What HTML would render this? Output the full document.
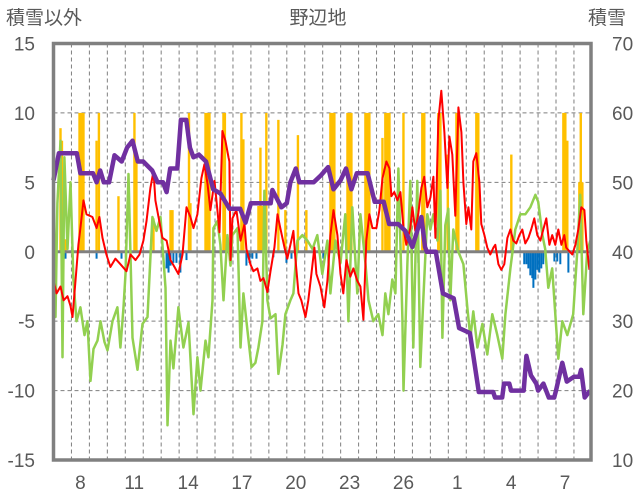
<!DOCTYPE html>
<html><head><meta charset="utf-8">
<style>
html,body{margin:0;padding:0;background:#fff;}
svg{display:block;}
text{font-family:"Liberation Sans","Noto Sans CJK JP",sans-serif;fill:#595959;}
</style></head>
<body>
<svg id="chart" width="636" height="501" viewBox="0 0 636 501" xmlns="http://www.w3.org/2000/svg">
  <text x="6" y="24" font-size="19" font-family="Noto Sans CJK JP, sans-serif">積雪以外</text>
  <text x="318" y="24" font-size="19" text-anchor="middle" font-family="Noto Sans CJK JP, sans-serif">野辺地</text>
  <text x="588" y="24" font-size="19" font-family="Noto Sans CJK JP, sans-serif">積雪</text>
  <g id="grid"></g>
  <g id="bars"></g>
  <g id="lines"></g>
  <g id="frame"></g>
  <g id="labels"></g>
</svg>
<script>
// ---- data (time in days from start of the 7th) ----
const leftTicks = [15, 10, 5, 0, -5, -10, -15];
const rightTicks = [70, 60, 50, 40, 30, 20, 10];
const dayLabels = ["8","11","14","17","20","23","26","1","4","7"];
const dayLabelPos = [1.5,4.5,7.5,10.5,13.5,16.5,19.5,22.5,25.5,28.5];

const redT = [0,0.17,0.39,0.56,0.78,0.95,1.06,1.23,1.39,1.50,1.67,1.84,2.17,2.40,2.56,2.73,2.95,3.17,3.45,3.73,4.07,4.29,4.57,4.79,5.01,5.18,5.40,5.57,5.68,5.85,6.07,6.30,6.52,6.74,6.96,7.19,7.41,7.63,7.80,8.02,8.24,8.41,8.58,8.74,8.97,9.13,9.25,9.41,9.58,9.75,9.80,9.86,9.97,10.19,10.42,10.64,10.75,10.97,11.14,11.36,11.53,11.70,11.92,12.09,12.31,12.48,12.64,12.87,13.03,13.20,13.37,13.48,13.65,13.81,14.04,14.20,14.37,14.54,14.65,14.87,15.09,15.26,15.43,15.60,15.82,15.99,16.15,16.32,16.54,16.71,16.93,17.10,17.27,17.43,17.60,17.77,17.99,18.16,18.33,18.55,18.72,18.83,18.99,19.16,19.33,19.50,19.66,19.88,20.00,20.16,20.33,20.50,20.66,20.83,21.00,21.17,21.28,21.44,21.61,21.78,21.95,22.06,22.22,22.39,22.56,22.73,22.84,23.00,23.12,23.28,23.39,23.56,23.73,23.84,24.01,24.17,24.34,24.51,24.62,24.79,24.95,25.12,25.29,25.46,25.62,25.79,25.96,26.12,26.29,26.46,26.62,26.79,26.96,27.13,27.29,27.46,27.63,27.79,27.96,28.13,28.30,28.46,28.57,28.91,29.08,29.24,29.41,29.58,29.69,29.86];
const redV = [-2.1,-3,-2.5,-3.5,-3.2,-3.9,-4.7,-2,0.5,1.7,3.7,2.7,2.5,1.7,2.5,1,-0.2,-1.1,-0.5,-0.9,-1.4,-0.2,-0.6,-0.2,0.8,2.2,4.6,5.8,3.7,2.5,1,0.8,-0.6,-1.1,-1.6,-0.2,3.2,2.5,1.7,2.7,5.3,6.3,4.9,3,5.1,3,1.4,8.7,8,6.8,6.5,-0.6,2.4,3,0.8,2,0.2,-0.9,-1.4,-1.2,-2.1,-1.9,-2.9,-1.4,0.3,2.7,1.7,0.3,-0.5,0.5,1.5,-0.5,-3,-3.5,-4.7,-3.5,-1.6,0.3,-1.6,-2.5,-4,-2.1,1.2,3,1.2,-1.6,-3,-0.6,-1.8,-1.2,-2.1,-2.5,-4.9,0.8,2.7,1.7,1.7,3,5.3,6.5,6,4,4.3,3.7,4.3,1.7,0.5,1.7,3.2,1.5,2.8,4.6,5.4,3.2,3.9,5.4,1,9.4,11.6,8.6,4.6,8.3,7,2.6,10.4,8.6,5,2,3.2,1.6,6.5,7.1,5,2,1.2,0.3,-0.2,0.3,0.5,-0.9,-1.3,-0.9,1,1.6,0.8,0.6,1.2,1.6,0.6,1,1.6,2.4,1.2,0.8,1.6,2.4,0.5,1.2,0.5,1.6,0.5,1.2,0.3,-0.2,0.5,1.6,3.2,3,0.8,-1.3];

const greenT = [0,0.11,0.22,0.39,0.50,0.61,0.78,0.95,1.11,1.28,1.50,1.73,1.89,2.06,2.23,2.45,2.62,2.84,3.01,3.29,3.56,3.73,3.90,4.01,4.18,4.40,4.68,4.96,5.24,5.51,5.74,5.96,6.24,6.35,6.52,6.68,6.96,7.24,7.52,7.80,8.02,8.19,8.47,8.63,8.86,8.91,9.13,9.30,9.47,9.69,9.86,9.97,10.25,10.42,10.58,10.81,11.03,11.25,11.42,11.64,11.75,11.92,12.09,12.37,12.53,12.76,12.92,13.20,13.37,13.59,13.87,14.15,14.43,14.70,14.98,15.26,15.43,15.71,15.99,16.26,16.43,16.65,16.93,17.10,17.38,17.55,17.82,18.10,18.33,18.49,18.66,18.88,19.05,19.22,19.44,19.50,19.72,19.88,20.05,20.27,20.44,20.61,20.83,21.00,21.17,21.39,21.56,21.67,21.83,22.00,22.11,22.28,22.56,22.84,23.06,23.23,23.39,23.62,23.90,24.17,24.45,24.73,25.01,25.18,25.46,25.73,26.01,26.29,26.57,26.85,27.01,27.24,27.40,27.57,27.79,27.96,28.13,28.35,28.63,28.96,29.19,29.35,29.52,29.74,29.91];
const greenV = [6,-4.7,3.5,8,-7.6,6.8,0.2,5,-2,-5,-4,-6,-5,-9.3,-7,-6.4,-5,-6.5,-7.1,-5,-4,-6.9,-4,-1.6,5.6,-6.2,-8.5,-5.2,-4.7,2.5,1.5,2.5,-2.6,-12.5,-6.4,-8.4,-4,-6.9,-5.1,-11.7,-7.6,-10,-6.4,-7.6,-3.5,1.7,2.2,0.5,-3.5,1.2,-1,1.2,1.7,-6.9,-3,-5.7,-8.3,-8,-6.9,-5,4.4,-3.5,-4.8,-4.5,-8.8,-6.7,-4.5,-3.5,-3,0.8,1.2,0.8,0.2,1.2,-1.6,0.8,-3,0.8,-0.8,2.7,-5,3.2,-3,2.7,-0.8,-3.5,-5,-4.5,-6,-3,-4.5,-2,-3,6,-4.8,-10,-0.8,5.1,-6.9,5.1,-8.3,-3.3,2.7,1.6,2.7,0.8,4.4,-6.2,1.9,3.1,-3.5,1.6,0,-0.9,-4,-6.2,-4.3,-6.9,-5.2,-7.4,-4.5,-6,-7.7,-4.5,-1.2,1.6,2.7,2.7,3.2,4.1,3.6,1.2,0.2,-2.6,-1.2,-4.5,-7.7,-5,-6,-4.5,0.2,4.1,-4.5,0,0.8];

const snowT = [0,0.3,1.3,1.5,2.2,2.4,2.6,2.8,3.1,3.4,3.8,4.1,4.4,4.7,5.0,5.5,5.8,6.1,6.3,6.5,6.9,7.1,7.4,7.6,7.8,8.1,8.5,8.9,9.3,9.8,10.4,10.7,11.0,12.1,12.2,12.7,13.0,13.2,13.5,13.7,14.5,14.9,15.3,15.6,16.0,16.3,16.6,16.9,17.5,17.9,18.4,18.7,19.2,19.6,20.0,20.5,20.7,20.8,21.3,21.7,22.3,22.6,23.2,23.7,24.5,24.6,25.0,25.1,25.4,25.5,26.2,26.35,26.6,26.9,27.0,27.3,27.6,27.9,28.0,28.35,28.6,29.0,29.3,29.4,29.6,29.9];
const snowV = [50.3,54.2,54.2,51.3,51.3,50,51.7,50,50,53.9,53,55,56,53,53,51.7,50,50,48.6,52,52,59,59,55,53.6,54,53,49,48.4,46.2,46.2,44.2,47,47,48.9,46.4,47,50,52,50,50,51,52.2,49,50.3,52,49,51.3,51.3,47.2,47.2,44,44,43,40.7,45,40.7,40,40,34,33.3,29,28.3,19.8,19.8,19,19,21,21,20,20,25,22.2,21,20,21,19,19,20,24,21.3,22,22,23,19,20];

const precipT = [0.39,0.47,0.56,0.67,1.45,1.56,1.67,2.40,2.53,3.62,4.51,4.62,5.57,6.52,6.63,7.55,7.63,8.47,8.58,8.69,9.47,9.55,10.47,10.58,11.42,11.53,11.64,11.86,12.53,12.92,13.62,14.09,15.43,15.54,15.65,16.38,16.49,16.60,17.38,17.49,17.60,18.33,18.49,18.60,18.72,19.50,20.55,20.66,21.44,21.56,21.97,22.45,22.56,23.56,23.67,25.51,28.41,28.52,28.63,29.30,29.38,29.47];
const precipV = [8.9,8,0.9,0.9,10,10,10,8,10,4,10,7,2.4,3,3,10,3.5,10,10,10,10,10,10,8.1,3.3,7.5,3.3,10,9.5,3,8.4,3,10,10,10,10,10,10,10,10,10,8.2,10,10,10,10,10,10,10,10,7,10,10,10,10,7,10,10,8,5,10,5];

const negT = [0.67,2.40,3.79,6.30,6.41,6.52,6.68,6.85,7.07,7.41,10.75,10.92,11.08,11.31,12.25,12.98,13.26,15.04,20.33,26.23,26.35,26.46,26.57,26.68,26.74,26.85,26.96,27.07,27.18,27.29,27.91,28.07,28.24,28.69];
const negV = [-0.5,-0.5,-0.5,-1.2,-1.5,-1,-0.8,-0.8,-1.5,-0.6,-1,-0.8,-0.5,-0.5,-0.4,-0.8,-0.5,-0.5,-0.8,-0.9,-0.9,-1.2,-1.7,-1.9,-2.6,-2,-1.3,-1.5,-1.2,-0.9,-0.7,-0.7,-0.9,-1.5];

// ---- scales ----
const X0 = 53.5, X1 = 591, Y0 = 43.5, Y1 = 460, NDAYS = 29.95;
function xs(t){ return X0 + (t / NDAYS) * (X1 - X0); }
function yl(v){ return Y1 - (v + 15) / 30 * (Y1 - Y0); }
function yr(v){ return Y1 - (v - 10) / 60 * (Y1 - Y0); }
const NS = "http://www.w3.org/2000/svg";
function mk(tag, parent, attrs){ const e = document.createElementNS(NS, tag); for (const k in attrs) e.setAttribute(k, attrs[k]); parent.appendChild(e); return e; }

const grid = document.getElementById('grid');
for (let d = 1; d < 30; d++) {
  const ln = mk('line', grid, {x1: xs(d), x2: xs(d), y1: Y0, y2: Y1, stroke: '#7f7f7f', 'stroke-width': 1, 'stroke-dasharray': '4,3'});
  
  
}
leftTicks.forEach(v => {
  if (v === 15 || v === -15 || v === 0) return;
  const ln = mk('line', grid, {x1: X0, x2: X1, y1: yl(v), y2: yl(v), stroke: '#7f7f7f', 'stroke-width': 1, 'stroke-dasharray': '4,3'});
  
  
});

const bars = document.getElementById('bars');
precipT.forEach((t, i) => {
  const y = yl(precipV[i]);
  const r = mk('rect', bars, {x: xs(t) - 1.2, y: y, width: 2.4, height: yl(0) - y, fill: '#FFC000'});
  
  
});
negT.forEach((t, i) => {
  const y = yl(negV[i]);
  const r = mk('rect', bars, {x: xs(t) - 1, y: yl(0), width: 2, height: y - yl(0), fill: '#0070C0'});
  
  
});
const zl = mk('line', bars, {x1: X0, x2: X1, y1: yl(0), y2: yl(0), stroke: '#808080', 'stroke-width': 3});



const lines = document.getElementById('lines');
function poly(T, V, yf, color, w, name){
  const pts = T.map((t, i) => xs(t).toFixed(1) + ',' + yf(V[i]).toFixed(1)).join(' ');
  const p = mk('polyline', lines, {points: pts, fill: 'none', stroke: color, 'stroke-width': w, 'stroke-linejoin': 'round'});
  
  
}
poly(greenT, greenV, yl, '#92D050', 2.5, 'green-temperature-line');
poly(redT, redV, yl, '#FF0000', 2, 'red-temperature-line');
poly(snowT, snowV, yr, '#7030A0', 4.5, 'snow-depth-line');

const frame = document.getElementById('frame');
const fr = mk('rect', frame, {x: X0, y: Y0, width: X1 - X0, height: Y1 - Y0, fill: 'none', stroke: '#808080', 'stroke-width': 3.5});



const labels = document.getElementById('labels');
leftTicks.forEach(v => {
  const t = mk('text', labels, {x: 35, y: yl(v) + 7, 'font-size': 19, 'text-anchor': 'end'});
  t.textContent = v;
  
  
});
rightTicks.forEach(v => {
  const t = mk('text', labels, {x: 612, y: yr(v) + 7, 'font-size': 19});
  t.textContent = v;
  
  
});
dayLabels.forEach((s, i) => {
  const t = mk('text', labels, {x: xs(dayLabelPos[i]), y: 489, 'font-size': 19, 'text-anchor': 'middle'});
  t.textContent = s;
  
  
});
</script>
</body></html>
